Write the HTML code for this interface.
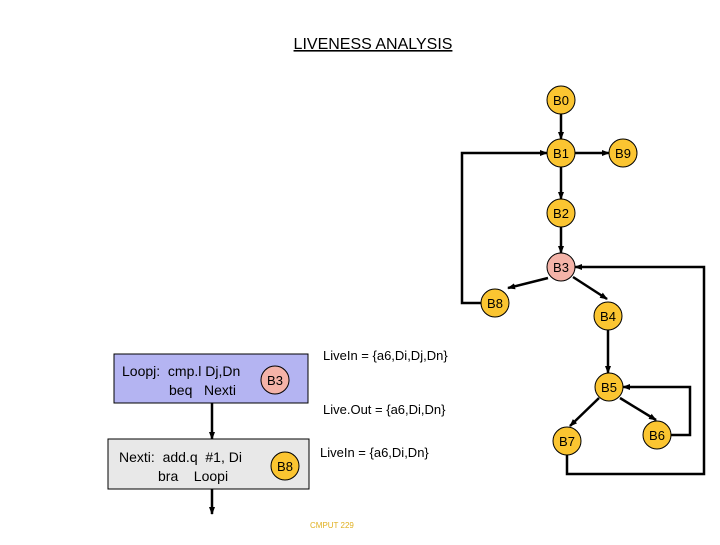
<!DOCTYPE html>
<html><head><style>
body{margin:0;background:#fff;}
svg text{font-family:"Liberation Sans",sans-serif;white-space:pre;}
</style></head><body>
<svg width="720" height="540" viewBox="0 0 720 540" xmlns="http://www.w3.org/2000/svg" xml:space="preserve">
<defs><marker id="a" markerWidth="8" markerHeight="8" refX="7" refY="4" orient="auto" markerUnits="userSpaceOnUse"><path d="M0,1 L8,4 L0,7 z" fill="#000"/></marker></defs>
<text x="373" y="49" font-size="16" text-anchor="middle" text-decoration="underline">LIVENESS ANALYSIS</text>
<g stroke="#000" stroke-width="2.5" fill="none">
<line x1="561" y1="114" x2="561" y2="139" marker-end="url(#a)"/>
<line x1="575" y1="153" x2="609" y2="153" marker-end="url(#a)"/>
<line x1="561" y1="167" x2="561" y2="199" marker-end="url(#a)"/>
<line x1="561" y1="227" x2="561" y2="253" marker-end="url(#a)"/>
<line x1="548" y1="278" x2="508" y2="288" marker-end="url(#a)"/>
<line x1="573" y1="277" x2="607" y2="299" marker-end="url(#a)"/>
<polyline points="481,303 462,303 462,153 547,153" marker-end="url(#a)"/>
<line x1="608" y1="330" x2="608" y2="373" marker-end="url(#a)"/>
<line x1="599" y1="398" x2="570" y2="426" marker-end="url(#a)"/>
<line x1="620" y1="398" x2="656" y2="420" marker-end="url(#a)"/>
<polyline points="671,435 690,435 690,387 623,387" marker-end="url(#a)"/>
<polyline points="567,455 567,474 704,474 704,267 575,267" marker-end="url(#a)"/>
<line x1="212" y1="403" x2="212" y2="439" marker-end="url(#a)"/>
<line x1="212" y1="489" x2="212" y2="514" marker-end="url(#a)"/>
</g>
<rect x="114" y="354" width="194" height="49" fill="#b4b4f2" stroke="#000"/>
<rect x="108" y="439" width="201" height="50" fill="#e8e8e8" stroke="#000"/>
<g stroke="#000" stroke-width="1" fill="#fbc531">
<circle cx="561" cy="100" r="14"/><circle cx="561" cy="153" r="14"/><circle cx="623" cy="153" r="14"/>
<circle cx="561" cy="213" r="14"/><circle cx="561" cy="267" r="14" fill="#f4b3a8"/>
<circle cx="495" cy="303" r="14"/><circle cx="608" cy="316" r="14"/><circle cx="609" cy="387" r="14"/>
<circle cx="567" cy="441" r="14"/><circle cx="657" cy="435" r="14"/>
<circle cx="275" cy="380" r="14" fill="#f4b3a8"/><circle cx="285" cy="466" r="14"/>
</g>
<g font-size="13" text-anchor="middle">
<text x="561" y="105">B0</text><text x="561" y="158">B1</text><text x="623" y="158">B9</text>
<text x="561" y="218">B2</text><text x="561" y="272">B3</text><text x="495" y="308">B8</text>
<text x="608" y="321">B4</text><text x="609" y="392">B5</text><text x="567" y="446">B7</text>
<text x="657" y="440">B6</text><text x="275" y="385">B3</text><text x="285" y="471">B8</text>
</g>
<g font-size="14">
<text x="122" y="376">Loopj:  cmp.l Dj,Dn</text>
<text x="169" y="395">beq   Nexti</text>
<text x="119" y="462">Nexti:  add.q  #1, Di</text>
<text x="158" y="481">bra    Loopi</text>
</g>
<g font-size="13">
<text x="323" y="360">LiveIn = {a6,Di,Dj,Dn}</text>
<text x="323" y="414">Live.Out = {a6,Di,Dn}</text>
<text x="320" y="457">LiveIn = {a6,Di,Dn}</text>
</g>
<text x="310" y="528" font-size="8" fill="#e0b020">CMPUT 229</text>
</svg>
</body></html>
